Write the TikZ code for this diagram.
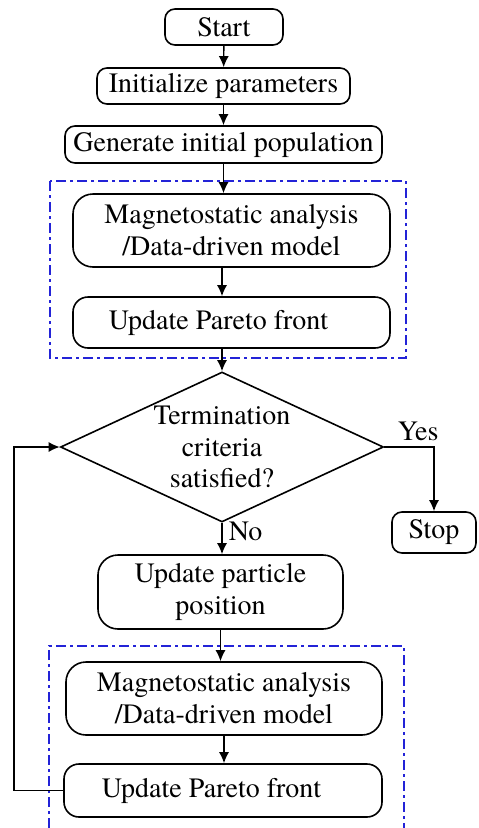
\documentclass[tikz,border=0pt]{standalone}
\usepackage{fontspec}
\setmainfont{TeX Gyre Termes}
\usetikzlibrary{shapes.geometric,arrows.meta,calc}
\definecolor{groupblue}{RGB}{35,35,215}

\begin{document}
\begin{tikzpicture}[x=1pt, y=-1pt, line width=1.6pt,
        font=\rmfamily\fontsize{28}{32}\selectfont,
        proc/.style={draw, rounded corners=#1, align=center, inner sep=0pt},
        proc/.default=10pt,
        flow/.style={line width=1.4pt, -{Latex[length=11pt,width=10pt]}},
        group/.style={draw=groupblue, line width=1.5pt, dash pattern=on 10pt off 4pt on 3pt off 4pt}]
    \useasboundingbox (0,0) rectangle (479,828);

    \draw[group] (50,181) rectangle (406,358);
    \draw[group] (49,828) -- (49,646) -- (404,646) -- (404,828);

    \node[proc, minimum width=118pt, minimum height=36pt] (start) at (224,27) {Start};
    \node[proc, minimum width=253pt, minimum height=36pt] (init) at (223.5,86) {Initialize parameters};
    \node[proc, minimum width=317pt, minimum height=37pt] (gen) at (223.5,144.5) {Generate initial population};
    \node[proc=20pt, minimum width=317pt, minimum height=73pt] (mag1) at (231.5,230.5) {Magnetostatic analysis\\/Data-driven model};
    \node[proc=15pt, minimum width=317pt, minimum height=51pt] (par1) at (231.5,322.5) {Update Pareto front\hspace*{26pt}};
    \node[draw, diamond, aspect=2.15, inner sep=-3pt, minimum width=323pt, minimum height=150pt,
        align=center, font=\rmfamily\fontsize{28}{31.5}\selectfont] (crit) at (222,447) {Termination\\criteria\\satisfied?};
    \node[proc, minimum width=84pt, minimum height=41pt] (stop) at (434,532.5) {Stop};
    \node[proc=20pt, minimum width=245pt, minimum height=74pt] (upd) at (220.5,592) {Update particle\\position};
    \node[proc=20pt, minimum width=316pt, minimum height=73pt] (mag2) at (224,698.5) {Magnetostatic analysis\\/Data-driven model};
    \node[proc=15pt, minimum width=318pt, minimum height=53pt] (par2) at (223,790.5) {Update Pareto front\hspace*{23pt}};

    \node[anchor=base west, inner sep=0pt] (yes) at (397,440) {Yes};
    \node[anchor=base west, inner sep=0pt] (no) at (228,540) {No};
    \coordinate (loop) at (14,791);

    \draw[flow] (start) -- (init);
    \draw[flow] (init) -- (gen);
    \draw[flow] (gen.south) -- (gen.south |- mag1.north);
    \draw[flow] (mag1.south -| crit.north) -- (par1.north -| crit.north);
    \draw[flow] (par1.south -| crit.north) -- (crit.north);
    \draw[flow] (crit.east) -| (stop.north);
    \draw[flow] (crit.south) -- (crit.south |- upd.north);
    \draw[flow] (upd.south) -- (upd.south |- mag2.north);
    \draw[flow] (mag2.south) -- (mag2.south |- par2.north);
    \draw[flow] (par2.west) -- (par2.west -| loop) |- (crit.west);
\end{tikzpicture}
\end{document}
